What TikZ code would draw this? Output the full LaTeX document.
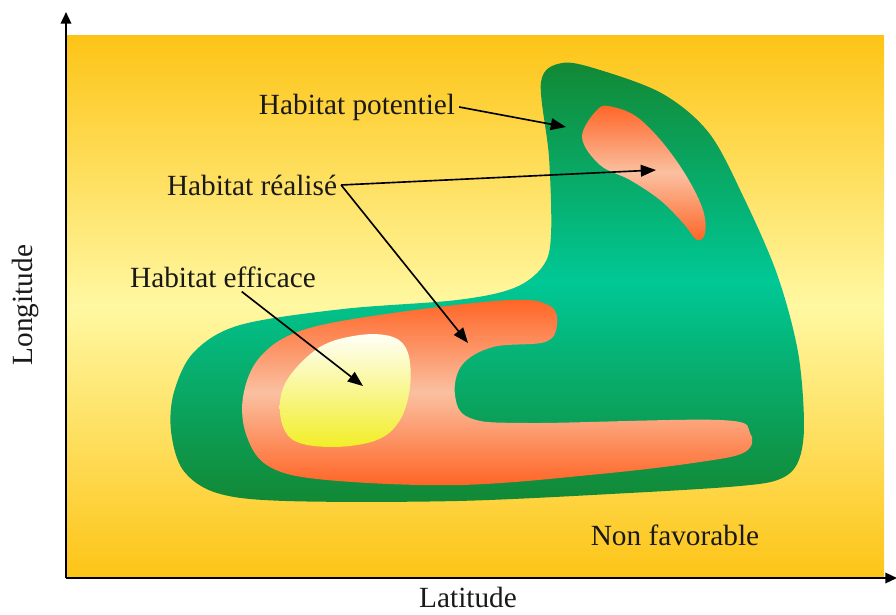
\documentclass[tikz,border=0pt]{standalone}
\usepackage{fontspec}
\setmainfont{Liberation Serif}
\usepackage{tikz}
\usetikzlibrary{arrows.meta,positioning}
\definecolor{BgDeep}{RGB}{253,196,22}
\definecolor{BgPale}{RGB}{255,248,162}
\definecolor{PotDark}{RGB}{18,136,52}
\definecolor{PotTeal}{RGB}{0,200,150}
\definecolor{RealOrange}{RGB}{255,100,38}
\definecolor{RealLight}{RGB}{250,192,160}
\definecolor{EffWhite}{RGB}{255,255,248}
\definecolor{EffYellow}{RGB}{242,238,40}

\begin{document}
\begin{tikzpicture}[
  x=0.03cm,y=-0.03cm,
  lbl/.style={font=\fontsize{25}{28}\selectfont,text=black!90},
  arr/.style={-{Triangle[length=13pt,width=10pt]},line width=1.4pt},
  axis/.style={-{Triangle[length=10pt,width=9pt]},line width=1.6pt},
  pot/.style={top color=PotDark,bottom color=PotDark,middle color=PotTeal},
  real/.style={top color=RealOrange,bottom color=RealOrange,middle color=RealLight},
]
\useasboundingbox (0,0) rectangle (896,614);
% zone non favorable
\shade[top color=BgDeep,bottom color=BgDeep,middle color=BgPale]
  (66,35) rectangle (884,578);
% habitat potentiel
\shade[pot] plot[smooth cycle,tension=0.55] coordinates {
  (562,63) (600,70) (663,94) (709,133) (743,196) (777,274) (798,352)
  (804,425) (798,462) (780,479) (740,486) (629,493) (457,501) (286,501) (217,493)
  (183,470) (171,431) (174,392) (194,352) (240,325) (343,309) (457,300)
  (514,288) (543,266) (551,235) (549,157) (541,82)};
% habitat realise
\shade[real] plot[smooth cycle,tension=0.6] coordinates {
  (303,330) (393,313) (510,300) (550,306) (557,325) (545,342) (493,347)
  (462,365) (455,395) (470,418) (530,423) (720,420) (750,433) (745,452)
  (700,462) (600,474) (460,485) (327,480) (270,467) (247,437) (243,397)
  (260,357)};
\shade[real] plot[smooth cycle,tension=0.6] coordinates {
  (598,109) (582,137) (600,165) (630,180) (660,200) (683,223) (697,240)
  (705,233) (703,210) (687,177) (663,143) (637,117) (613,107)};
% habitat efficace
\shade[top color=EffWhite,bottom color=EffYellow] plot[smooth cycle,tension=0.6] coordinates {
  (360,335) (320,347) (287,380) (280,413) (293,440) (333,447) (377,440)
  (400,420) (410,387) (408,353) (393,337)};
% axes
\coordinate (o) at (66,578);
\coordinate (ytip) at (66,12);
\coordinate (xtip) at (897,578);
\draw[axis] (o) -- (ytip);
\draw[axis] (o) -- (xtip);
\node[lbl,rotate=90] (lon) at (25,305) {Longitude};
\node[lbl] (lat) at (468,597) {Latitude};
\node[lbl] (nonfav) at (675,535) {Non favorable};
% labels
\node[lbl] (potlbl) at (357,107) {Habitat potentiel};
\node[lbl] (reallbl) at (252,185) {Habitat réalisé};
\node[lbl] (efflbl) at (223,277) {Habitat efficace};
\coordinate (pottip) at (566,127);
\coordinate (realtipA) at (656,170);
\coordinate (realtipB) at (468,343);
\coordinate (efftip) at (363,386);
\draw[arr] (potlbl.east) -- (pottip);
\draw[arr] (reallbl.east) -- (realtipA);
\draw[arr] (reallbl.east) -- (realtipB);
\draw[arr] (efflbl) -- (efftip);
\end{tikzpicture}
\end{document}
